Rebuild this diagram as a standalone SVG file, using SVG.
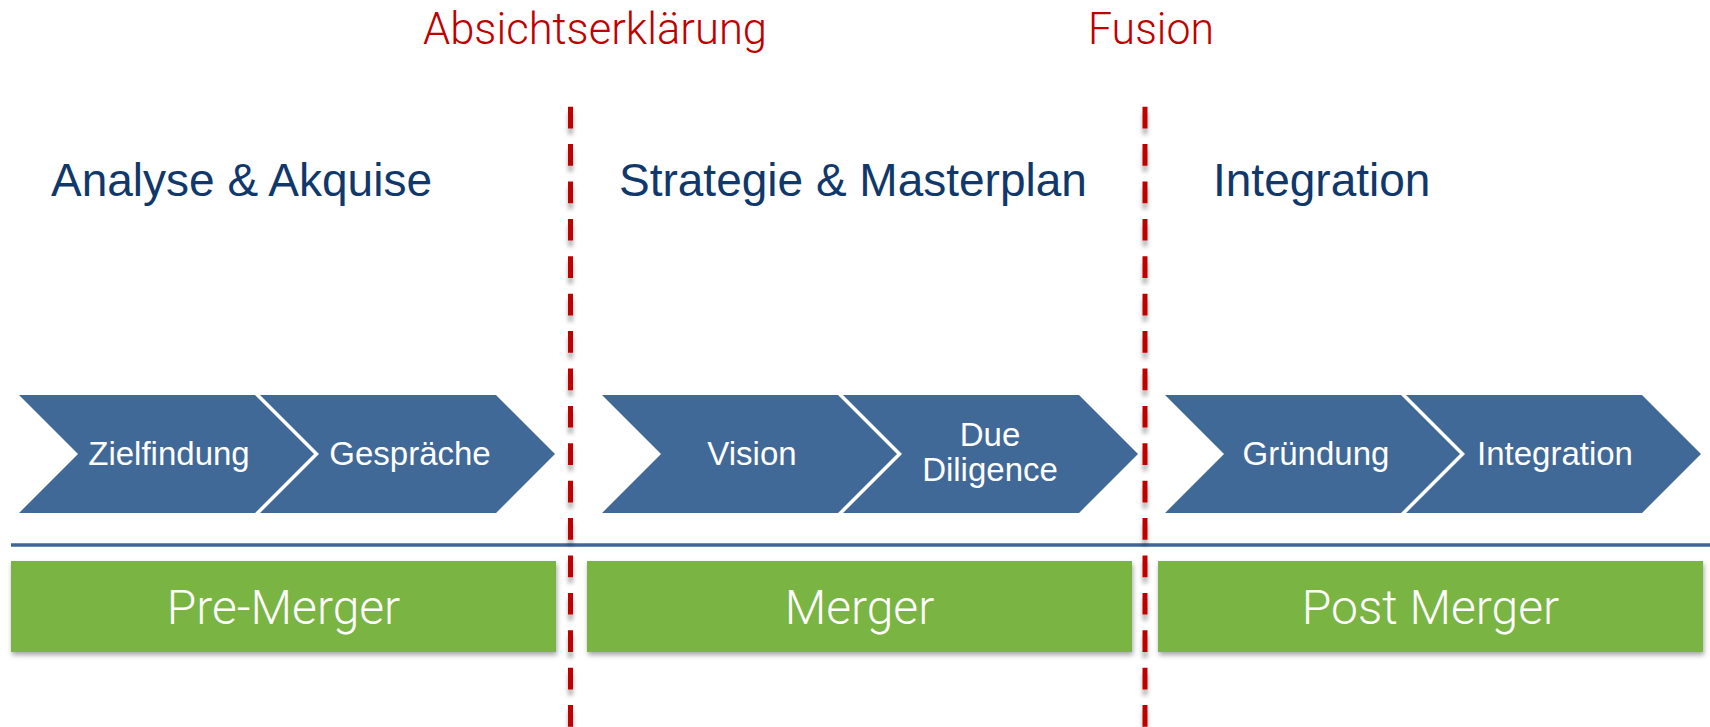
<svg xmlns="http://www.w3.org/2000/svg" width="1710" height="727" viewBox="0 0 1710 727">
<defs>
<filter id="dashShadow" filterUnits="userSpaceOnUse" x="0" y="0" width="1710" height="727">
<feDropShadow dx="0" dy="6" stdDeviation="2" flood-color="#000" flood-opacity="0.3"/>
</filter>
<filter id="boxShadow" x="-5%" y="-10%" width="110%" height="130%">
<feDropShadow dx="1" dy="3" stdDeviation="2.5" flood-color="#000" flood-opacity="0.35"/>
</filter>
</defs>
<style>
.chev{fill:#416998;}
.chevText{font-family:"Liberation Sans",Arial,sans-serif;font-size:33px;fill:#ffffff;text-anchor:middle;}
.head{font-family:"Liberation Sans",Arial,sans-serif;font-size:46px;fill:#10386b;}
.red{font-family:Roboto,"Liberation Sans",sans-serif;font-weight:300;font-size:45px;fill:#c00000;}
.box{fill:#7ab442;filter:url(#boxShadow);}
.boxText{font-family:Roboto,"Liberation Sans",sans-serif;font-weight:300;font-size:48px;fill:#ffffff;text-anchor:middle;}
.dash{stroke:#c00000;stroke-width:5;stroke-dasharray:21.7 15.7;fill:none;filter:url(#dashShadow);}
.hline{stroke:#3e6698;stroke-width:3.5;}
</style>
<rect width="1710" height="727" fill="#ffffff"/>

<g id="labels-top">
<text class="red" x="423" y="44" textLength="344" lengthAdjust="spacingAndGlyphs">Absichtserklärung</text>
<text class="red" x="1088" y="44" textLength="126" lengthAdjust="spacingAndGlyphs">Fusion</text>
</g>

<g id="headings">
<text id="h1" class="head" x="51" y="196">Analyse &amp; Akquise</text>
<text id="h2" class="head" x="619" y="196">Strategie &amp; Masterplan</text>
<text id="h3" class="head" x="1213" y="196">Integration</text>
</g>

<g id="node-zielfindung">
<path class="chev" d="M19,395 L255,395 L314,454 L255,513 L19,513 L78,454 Z"/>
<text class="chevText" x="169" y="465">Zielfindung</text>
</g>
<g id="node-gespraeche">
<path class="chev" d="M260,395 L496,395 L555,454 L496,513 L260,513 L319,454 Z"/>
<text class="chevText" x="410" y="465">Gespräche</text>
</g>
<g id="node-vision">
<path class="chev" d="M602,395 L838,395 L897,454 L838,513 L602,513 L661,454 Z"/>
<text class="chevText" x="752" y="465">Vision</text>
</g>
<g id="node-duediligence">
<path class="chev" d="M843,395 L1079,395 L1138,454 L1079,513 L843,513 L902,454 Z"/>
<text class="chevText" x="990" y="446">Due</text>
<text class="chevText" x="990" y="481">Diligence</text>
</g>
<g id="node-gruendung">
<path class="chev" d="M1165,395 L1401,395 L1460,454 L1401,513 L1165,513 L1224,454 Z"/>
<text class="chevText" x="1316" y="465">Gründung</text>
</g>
<g id="node-integration">
<path class="chev" d="M1406,395 L1642,395 L1701,454 L1642,513 L1406,513 L1465,454 Z"/>
<text class="chevText" x="1555" y="465">Integration</text>
</g>

<g id="node-premerger">
<rect class="box" x="11" y="561" width="545" height="91"/>
<text class="boxText" x="283.5" y="624">Pre-Merger</text>
</g>
<g id="node-merger">
<rect class="box" x="587" y="561" width="545" height="91"/>
<text class="boxText" x="859.5" y="624">Merger</text>
</g>
<g id="node-postmerger">
<rect class="box" x="1158" y="561" width="545" height="91"/>
<text class="boxText" x="1430.5" y="624">Post Merger</text>
</g>

<g id="connectors">
<line class="hline" x1="11" y1="545" x2="1710" y2="545"/>
<line class="dash" x1="570.5" y1="106.7" x2="570.5" y2="727"/>
<line class="dash" x1="1145" y1="106.7" x2="1145" y2="727"/>
</g>
</svg>
